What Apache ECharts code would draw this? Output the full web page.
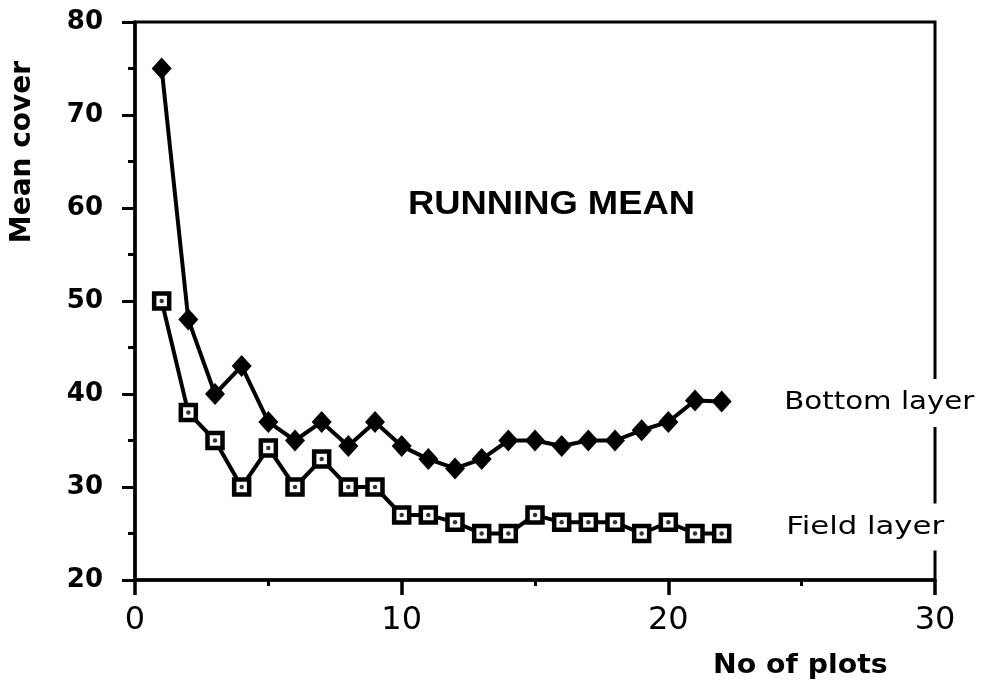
<!DOCTYPE html>
<html>
<head>
<meta charset="utf-8">
<script src="https://cdn.jsdelivr.net/npm/echarts@6/dist/echarts.min.js"></script>
<style>html,body{margin:0;padding:0;background:#fff}#c{width:983px;height:700px}</style>
</head>
<body>
<div id="c"></div>
<script>
var plots = [1,2,3,4,5,6,7,8,9,10,11,12,13,14,15,16,17,18,19,20,21,22];
var bottomLayer = [75,48,40,43,37,35,37,34.4,37,34.4,33,32,33,35,35,34.4,35,35,36.1,37,39.3,39.2];
var fieldLayer = [50,38,35,30,34.2,30,33,30,30,27,27,26.2,25,25,27,26.2,26.2,26.2,25,26.2,25,25];
var xTicks = [0,10,20,30];
var yTicks = [20,30,40,50,60,70,80];

function pairs(xs, ys){ return xs.map(function(x,i){ return [x, ys[i]]; }); }

var chart = echarts.init(document.getElementById('c'), null, {renderer:'canvas'});
var dv = '"DejaVu Sans", Verdana, sans-serif';
var lib = '"Liberation Sans", Arial, Helvetica, sans-serif';
chart.setOption({
  animation: false,
  backgroundColor: '#fff',
  grid: {left:135, right:48, top:22, bottom:120, show:true, borderColor:'#000', borderWidth:3, backgroundColor:'transparent'},
  xAxis: {
    type:'value', min:xTicks[0], max:xTicks[xTicks.length-1], interval:10,
    axisLine:{onZero:false, lineStyle:{color:'#000', width:3.5}},
    axisTick:{show:true, inside:false, length:15, lineStyle:{color:'#000', width:3.5}},
    minorTick:{show:true, splitNumber:2, length:6, lineStyle:{color:'#000', width:3}},
    splitLine:{show:false},
    axisLabel:{color:'#000', fontSize:32, fontFamily:dv, margin:25}
  },
  yAxis: {
    type:'value', min:yTicks[0], max:yTicks[yTicks.length-1], interval:10,
    axisLine:{show:true, onZero:false, lineStyle:{color:'#000', width:3.5}},
    axisTick:{show:true, inside:false, length:13, lineStyle:{color:'#000', width:3}},
    minorTick:{show:true, splitNumber:2, length:7, lineStyle:{color:'#000', width:3}},
    splitLine:{show:false},
    axisLabel:{color:'#000', fontSize:26, fontWeight:'bold', fontFamily:dv, margin:32}
  },
  series: [
    {
      name:'Bottom layer', type:'line', data:pairs(plots,bottomLayer),
      symbol:'diamond', symbolSize:[20,22],
      lineStyle:{color:'#000', width:4},
      itemStyle:{color:'#000'}, z:3
    },
    {
      name:'Field layer', type:'line', data:pairs(plots,fieldLayer),
      symbol:'rect', symbolSize:15,
      lineStyle:{color:'#000', width:4},
      itemStyle:{color:'#fff', borderColor:'#000', borderWidth:4.5}, z:3
    },
    {
      name:'Field layer dots', type:'scatter', data:pairs(plots,fieldLayer),
      symbol:'circle', symbolSize:4.5,
      itemStyle:{color:'#000'}, z:4, silent:true
    }
  ],
  graphic: [
    {type:'text', z:100, x:408, y:205, scaleX:1.07,
      style:{text:'RUNNING MEAN', font:'bold 34px '+lib, fill:'#000', textAlign:'left', textVerticalAlign:'middle'}},
    {type:'text', z:100, x:783, y:403, scaleX:1.22,
      style:{text:'Bottom layer', font:'24px '+dv, fill:'#000', textAlign:'left', textVerticalAlign:'middle', backgroundColor:'#fff', padding:[13,1,11,1]}},
    {type:'text', z:100, x:785, y:527, scaleX:1.23,
      style:{text:'Field layer', font:'25px '+dv, fill:'#000', textAlign:'left', textVerticalAlign:'middle', backgroundColor:'#fff', padding:[12,1,10,1]}},
    {type:'text', z:100, x:713, y:666, scaleX:1.09,
      style:{text:'No of plots', font:'bold 26px '+dv, fill:'#000', textAlign:'left', textVerticalAlign:'middle'}},
    {type:'text', z:100, x:23, y:152, rotation:Math.PI/2,
      style:{text:'Mean cover', font:'bold 28px '+dv, fill:'#000', textAlign:'center', textVerticalAlign:'middle'}}
  ]
});
</script>
</body>
</html>
